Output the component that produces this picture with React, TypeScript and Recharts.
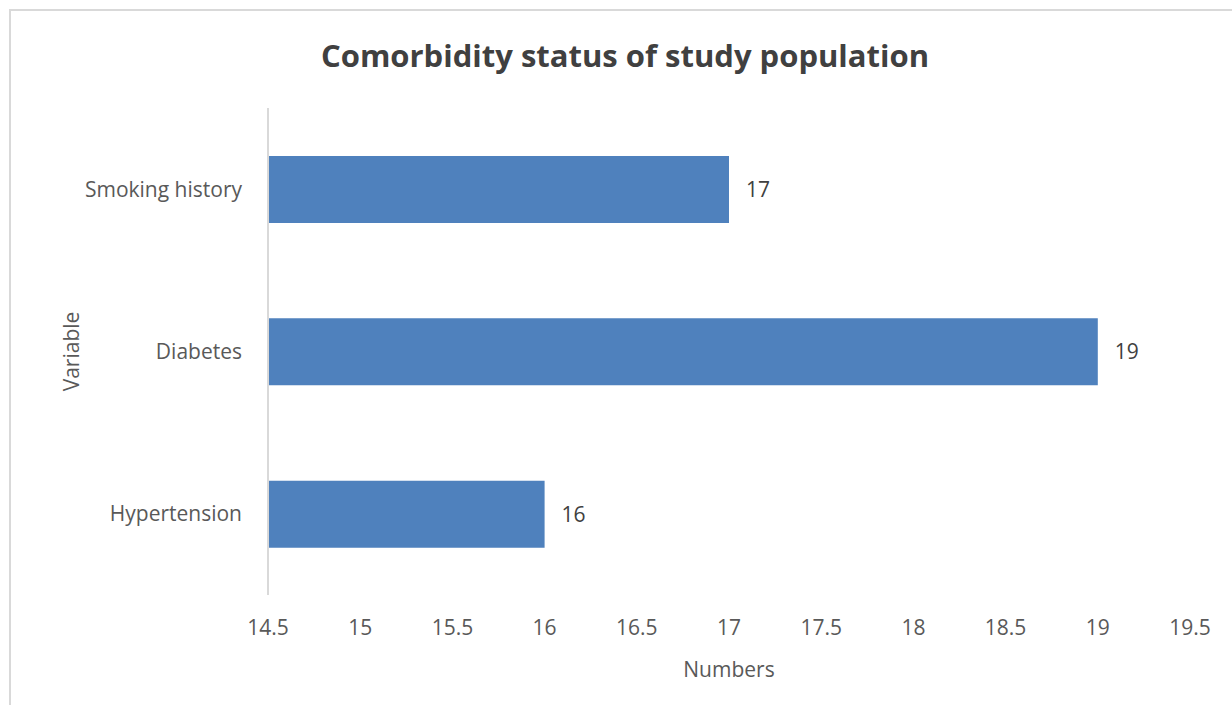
import React from 'react';
import { BarChart, Bar, XAxis, YAxis, LabelList } from 'recharts';

// categories top to bottom, as in the picture
const categories = ['Smoking history', 'Diabetes', 'Hypertension'];
const counts = [17, 19, 16];
const xTicks = [14.5, 15, 15.5, 16, 16.5, 17, 17.5, 18, 18.5, 19, 19.5];

const data = categories.map((name, i) => ({ name, value: counts[i] }));

const FONT = '"Open Sans", sans-serif';
const TEXT = '#595959';

export default function App() {
    return (
        <div style={{ position: 'absolute', left: 0, top: 0, width: 1232, height: 705, overflow: 'hidden', background: '#fff', fontFamily: FONT }}>
            {/* chart frame */}
            <div style={{ position: 'absolute', left: 9, top: 9, width: 1260, height: 740, border: '2px solid #d9d9d9' }} />

            <div style={{ position: 'absolute', left: 0, top: 33, width: 1250, textAlign: 'center', fontSize: 31, lineHeight: '44px', fontWeight: 700, color: '#404040' }}>
                Comorbidity status of study population
            </div>

            <div style={{ position: 'absolute', left: 0, top: 0 }}>
                <BarChart
                    width={1232}
                    height={705}
                    data={data}
                    layout="vertical"
                    margin={{ top: 108, right: 42, bottom: 0, left: 0 }}
                >
                    <XAxis
                        type="number"
                        domain={[14.5, 19.5]}
                        ticks={xTicks}
                        allowDataOverflow
                        axisLine={false}
                        tickLine={false}
                        height={110}
                        tickMargin={19}
                        tick={{ fontSize: 21, fill: TEXT, fontFamily: FONT }}
                        label={{ value: 'Numbers', position: 'insideBottom', offset: 28, fill: TEXT, fontSize: 21, fontFamily: FONT }}
                    />
                    <YAxis
                        type="category"
                        dataKey="name"
                        width={268}
                        axisLine={{ stroke: '#d9d9d9', strokeWidth: 2 }}
                        tickLine={false}
                        tickMargin={20}
                        tick={{ fontSize: 21, fill: TEXT, fontFamily: FONT }}
                        label={{ value: 'Variable', angle: -90, position: 'insideLeft', offset: 72, fill: TEXT, fontSize: 21, fontFamily: FONT, style: { textAnchor: 'middle' } }}
                    />
                    <Bar dataKey="value" fill="#4f81bd" barSize={67} isAnimationActive={false}>
                        <LabelList dataKey="value" position="right" offset={17} fill="#404040" fontSize={21} fontFamily={FONT} />
                    </Bar>
                </BarChart>
            </div>
        </div>
    );
}
